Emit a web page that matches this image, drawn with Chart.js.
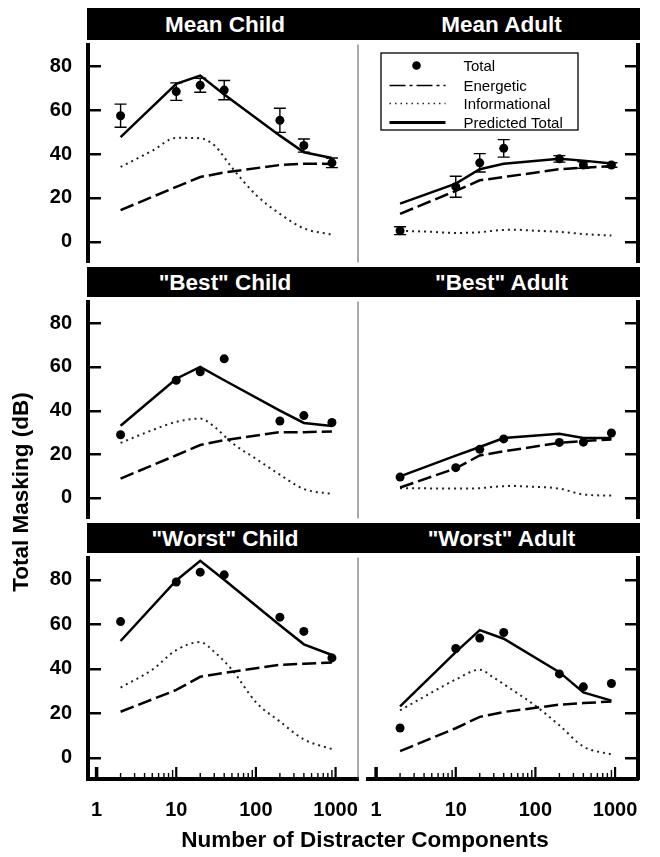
<!DOCTYPE html>
<html>
<head>
<meta charset="utf-8">
<script src="https://cdn.jsdelivr.net/npm/chart.js@4.4.1/dist/chart.umd.min.js"></script>
<style>
html,body{margin:0;padding:0;background:#fff;}
body{width:660px;height:857px;position:relative;overflow:hidden;font-family:"Liberation Sans",Arial,Helvetica,sans-serif;}
canvas{position:absolute;}
.bar{position:absolute;left:87px;width:553px;background:#000;color:#fff;font-weight:bold;font-size:22.5px;display:flex;box-sizing:border-box;padding-top:2px;}
.bar span{display:block;text-align:center;white-space:nowrap;}
.axtitle{position:absolute;font-weight:bold;font-size:22.5px;color:#000;text-align:center;white-space:nowrap;height:28px;line-height:28px;}
</style>
</head>
<body>
<script>
// ---------- data ----------
const xPoints = [2, 10, 20, 40, 200, 400, 900];
const xInformational = [2, 5, 10, 20, 30, 50, 100, 200, 400, 900];
const xTickValues = [1, 10, 100, 1000];
const xMinorTickValues = [2, 3, 4, 5, 6, 7, 8, 9, 20, 30, 40, 50, 60, 70, 80, 90, 200, 300, 400, 500, 600, 700, 800, 900];
const yTickValues = [0, 20, 40, 60, 80];
const seriesNames = ['Total', 'Energetic', 'Informational', 'Predicted Total'];
const panelTitles = ['Mean Child', 'Mean Adult', '"Best" Child', '"Best" Adult', '"Worst" Child', '"Worst" Adult'];
const xAxisTitle = 'Number of Distracter Components';
const yAxisTitle = 'Total Masking (dB)';

const meanChildTotal = [57.5, 68.5, 71.4, 69.2, 55.4, 43.9, 36.0];
const meanChildError = [5.3, 4.0, 3.2, 4.4, 5.5, 3.0, 2.2];
const meanChildEnergetic = [14.4, 25.0, 29.5, 31.6, 35.0, 35.6, 35.5];
const meanChildInformational = [34.1, 41.5, 47.4, 47.2, 44.0, 33.8, 21.4, 12.7, 6.1, 3.2];
const meanChildPredicted = [47.7, 72.0, 75.8, 67.2, 48.4, 40.8, 38.2];

const meanAdultTotal = [5.0, 25.1, 36.0, 42.6, 37.8, 35.0, 35.0];
const meanAdultError = [1.8, 4.8, 4.2, 4.0, 1.5, 1.5, 1.0];
const meanAdultEnergetic = [12.7, 23.2, 28.0, 29.5, 33.1, 33.8, 34.5];
const meanAdultInformational = [5.0, 4.5, 4.0, 4.3, 5.0, 5.5, 5.0, 4.5, 3.5, 2.8];
const meanAdultPredicted = [17.4, 26.5, 33.1, 35.6, 37.8, 37.0, 35.7];

const bestChildTotal = [28.9, 53.9, 57.8, 63.7, 35.2, 37.7, 34.5];
const bestChildEnergetic = [8.8, 19.5, 24.2, 26.4, 30.1, 30.1, 30.4];
const bestChildInformational = [25.2, 31.0, 34.8, 36.3, 32.6, 25.2, 17.9, 10.6, 4.0, 1.8];
const bestChildPredicted = [33.0, 54.6, 60.0, 53.9, 40.0, 34.3, 32.9];

const bestAdultTotal = [9.5, 13.8, 22.2, 27.0, 25.4, 25.5, 29.7];
const bestAdultEnergetic = [4.7, 13.5, 19.4, 21.3, 25.2, 26.0, 26.7];
const bestAdultInformational = [4.4, 4.3, 4.2, 4.4, 5.0, 5.4, 5.0, 4.2, 1.5, 1.0];
const bestAdultPredicted = [9.8, 19.3, 23.3, 27.4, 29.4, 27.4, 27.4];

const worstChildTotal = [61.2, 79.0, 83.4, 82.2, 63.2, 56.8, 44.9];
const worstChildEnergetic = [20.7, 30.5, 36.4, 38.2, 41.8, 42.3, 42.8];
const worstChildInformational = [31.6, 39.6, 48.4, 52.0, 47.6, 39.6, 25.0, 16.3, 8.3, 3.9];
const worstChildPredicted = [52.5, 79.7, 88.5, 80.0, 59.6, 51.0, 46.2];

const worstAdultTotal = [13.4, 49.1, 53.8, 56.3, 37.7, 31.9, 33.4];
const worstAdultEnergetic = [3.0, 13.3, 18.4, 20.6, 23.9, 24.6, 25.3];
const worstAdultInformational = [21.3, 29.4, 35.2, 39.6, 36.0, 30.8, 23.4, 14.6, 5.1, 1.5];
const worstAdultPredicted = [23.1, 47.5, 57.4, 53.5, 38.5, 29.4, 25.7];

// ---------- layout ----------
const FONT = '"Liberation Sans", Arial, Helvetica, sans-serif';
const rowBoxes = [
  {bar: 8, top: 40, bottom: 267},
  {bar: 267, top: 297, bottom: 523},
  {bar: 523, top: 553, bottom: 779}
];
const colBoxes = [
  {canvasLeft: 0, canvasWidth: 363, padRight: 0},
  {canvasLeft: 363, canvasWidth: 297, padRight: 22}
];
const X_AXIS_H = 60;

const panels = [
  {total: meanChildTotal, err: meanChildError, en: meanChildEnergetic, inf: meanChildInformational, pred: meanChildPredicted},
  {total: meanAdultTotal, err: meanAdultError, en: meanAdultEnergetic, inf: meanAdultInformational, pred: meanAdultPredicted, legend: true},
  {total: bestChildTotal, en: bestChildEnergetic, inf: bestChildInformational, pred: bestChildPredicted},
  {total: bestAdultTotal, en: bestAdultEnergetic, inf: bestAdultInformational, pred: bestAdultPredicted},
  {total: worstChildTotal, en: worstChildEnergetic, inf: worstChildInformational, pred: worstChildPredicted},
  {total: worstAdultTotal, en: worstAdultEnergetic, inf: worstAdultInformational, pred: worstAdultPredicted}
];

const toXY = (xs, ys) => ys.map((y, i) => ({x: xs[i], y: y}));

// ---------- plugins ----------
const framePlugin = {
  id: 'panelFrame',
  afterDraw(chart, args, opts) {
    const {ctx, chartArea: a, scales} = chart;
    ctx.save();
    ctx.strokeStyle = '#000';
    ctx.lineCap = 'butt';
    ctx.lineWidth = 2.5;
    yTickValues.forEach(v => {
      const py = Math.round(scales.y.getPixelForValue(v)) + 0.25;
      ctx.beginPath();
      if (opts.side === 'left') { ctx.moveTo(a.left, py); ctx.lineTo(a.left + 13, py); }
      else { ctx.moveTo(a.right - 13, py); ctx.lineTo(a.right, py); }
      ctx.stroke();
    });
    if (opts.divider) {
      ctx.lineWidth = 1;
      ctx.strokeStyle = '#555';
      ctx.beginPath();
      ctx.moveTo(a.right - 0.5, a.top);
      ctx.lineTo(a.right - 0.5, a.bottom);
      ctx.stroke();
    }
    if (opts.bottom) {
      ctx.strokeStyle = '#000';
      xTickValues.forEach((v, i) => {
        const px = scales.x.getPixelForValue(v);
        ctx.lineWidth = i === 0 ? 3.5 : 2.2;
        ctx.beginPath(); ctx.moveTo(px, a.bottom); ctx.lineTo(px, a.bottom - 12); ctx.stroke();
      });
      ctx.lineWidth = 1.4;
      xMinorTickValues.forEach(v => {
        const px = scales.x.getPixelForValue(v);
        const len = String(v)[0] === '9' ? 9 : 6;
        ctx.beginPath(); ctx.moveTo(px, a.bottom); ctx.lineTo(px, a.bottom - len); ctx.stroke();
      });
    }
    ctx.restore();
  }
};

const errorBarPlugin = {
  id: 'errorBars',
  afterDatasetsDraw(chart) {
    const {ctx, scales} = chart;
    chart.data.datasets.forEach(ds => {
      if (!ds.errors) return;
      ctx.save();
      ctx.strokeStyle = '#000';
      ctx.lineWidth = 1.4;
      ds.data.forEach((p, j) => {
        const e = ds.errors[j];
        const px = scales.x.getPixelForValue(p.x);
        const t = scales.y.getPixelForValue(p.y + e);
        const b = scales.y.getPixelForValue(p.y - e);
        ctx.beginPath();
        ctx.moveTo(px, t); ctx.lineTo(px, b);
        ctx.moveTo(px - 6, t); ctx.lineTo(px + 6, t);
        ctx.moveTo(px - 6, b); ctx.lineTo(px + 6, b);
        ctx.stroke();
      });
      ctx.restore();
    });
  }
};

const boxLegendPlugin = {
  id: 'boxLegend',
  afterDraw(chart, args, opts) {
    if (!opts.show) return;
    const {ctx, chartArea: a} = chart;
    const L = a.left + 13, T = a.top + 8, W = 197, H = 77;
    ctx.save();
    ctx.fillStyle = '#fff';
    ctx.fillRect(L, T, W, H);
    ctx.strokeStyle = '#000';
    ctx.lineWidth = 1.3;
    ctx.strokeRect(L + 0.5, T + 0.5, W, H);
    const rowY = [13, 33, 51, 70];
    ctx.font = '15px ' + FONT;
    ctx.textBaseline = 'middle';
    ctx.textAlign = 'left';
    chart.data.datasets.forEach((ds, i) => {
      const y = T + rowY[i];
      if (ds.showLine === false) {
        ctx.fillStyle = '#000';
        ctx.beginPath(); ctx.arc(L + 36, y, 4.3, 0, Math.PI * 2); ctx.fill();
      } else {
        ctx.strokeStyle = ds.borderColor;
        ctx.lineWidth = ds.legendWidth;
        ctx.setLineDash(ds.legendDash || []);
        ctx.beginPath(); ctx.moveTo(L + 9, y); ctx.lineTo(L + 65, y); ctx.stroke();
        ctx.setLineDash([]);
      }
      ctx.fillStyle = '#000';
      ctx.fillText(ds.label, L + 83, y + 1);
    });
    ctx.restore();
  }
};

// ---------- build ----------
panels.forEach((p, idx) => {
  const row = Math.floor(idx / 2), col = idx % 2;
  const rb = rowBoxes[row], cb = colBoxes[col];
  const isBottom = row === 2;
  const areaH = rb.bottom - rb.top;
  const cvH = areaH + (isBottom ? X_AXIS_H : 0);

  const cv = document.createElement('canvas');
  cv.width = cb.canvasWidth; cv.height = cvH;
  cv.style.left = cb.canvasLeft + 'px'; cv.style.top = rb.top + 'px';
  cv.style.width = cb.canvasWidth + 'px'; cv.style.height = cvH + 'px';
  document.body.appendChild(cv);

  const datasets = [
    {label: seriesNames[0], data: toXY(xPoints, p.total), errors: p.err, showLine: false,
     pointRadius: 4.5, pointBackgroundColor: '#000', pointBorderWidth: 0, borderColor: '#000'},
    {label: seriesNames[1], data: toXY(xPoints, p.en), borderColor: '#000', borderWidth: 2.5,
     borderDash: [14, 5], pointRadius: 0, tension: 0, legendWidth: 1.3, legendDash: [16, 4, 3, 4]},
    {label: seriesNames[2], data: toXY(xInformational, p.inf), borderColor: '#222', borderWidth: 2,
     borderDash: [2, 4], pointRadius: 0, cubicInterpolationMode: 'monotone', legendWidth: 1.5, legendDash: [1.5, 4]},
    {label: seriesNames[3], data: toXY(xPoints, p.pred), borderColor: '#000', borderWidth: 2.5,
     pointRadius: 0, tension: 0, legendWidth: 3}
  ];

  new Chart(cv, {
    type: 'line',
    data: {datasets},
    options: {
      responsive: false, animation: false, devicePixelRatio: 1,
      events: [],
      layout: {padding: {left: 0, right: cb.padRight, top: 0, bottom: 0}},
      plugins: {
        legend: {display: false}, tooltip: {enabled: false}, title: {display: false},
        panelFrame: {side: col === 0 ? 'left' : 'right', divider: col === 0, bottom: isBottom},
        boxLegend: {show: !!p.legend}
      },
      scales: {
        x: {
          type: 'logarithmic', min: 0.78, max: 1940, position: 'bottom', display: isBottom,
          grid: {display: false},
          border: {display: true, width: 4, color: '#000'},
          afterBuildTicks: s => { s.ticks = xTickValues.map(v => ({value: v})); },
          afterFit: s => {
            s.height = isBottom ? X_AXIS_H : 0;
            s.paddingLeft = 0; s.paddingRight = 0; s.paddingTop = 0; s.paddingBottom = 0;
          },
          ticks: {color: '#000', font: {family: FONT, size: 20, weight: 'bold'}, padding: 11,
                  maxRotation: 0, autoSkip: false, callback: v => String(v)}
        },
        y: {
          type: 'linear', min: -9.5, max: 90, position: col === 0 ? 'left' : 'right', display: true,
          grid: {display: false},
          border: {display: true, width: 4, color: '#000'},
          afterBuildTicks: s => { s.ticks = yTickValues.map(v => ({value: v})); },
          afterFit: s => {
            s.width = col === 0 ? 88 : 0;
            s.paddingLeft = 0; s.paddingRight = 0; s.paddingTop = 0; s.paddingBottom = 0;
          },
          ticks: {display: col === 0, color: '#000', font: {family: FONT, size: 20, weight: 'bold'},
                  padding: 8, callback: v => String(v)}
        }
      }
    },
    plugins: [framePlugin, errorBarPlugin, boxLegendPlugin]
  });
});

// title bars (black strips with white bold titles)
rowBoxes.forEach((rb, r) => {
  const bar = document.createElement('div');
  bar.className = 'bar';
  const h = rb.top - rb.bar;
  bar.style.top = rb.bar + 'px';
  bar.style.height = h + 'px';
  [0, 1].forEach(c => {
    const s = document.createElement('span');
    s.style.width = (c === 0 ? 276 : 277) + 'px';
    s.style.lineHeight = (h - 2) + 'px';
    s.textContent = panelTitles[r * 2 + c];
    bar.appendChild(s);
  });
  document.body.appendChild(bar);
});

// axis titles
const xt = document.createElement('div');
xt.className = 'axtitle';
xt.style.left = '65px'; xt.style.width = '600px'; xt.style.top = '826px';
xt.textContent = xAxisTitle;
document.body.appendChild(xt);

const yt = document.createElement('div');
yt.className = 'axtitle';
yt.style.width = '300px'; yt.style.left = (21 - 150) + 'px'; yt.style.top = (492 - 14) + 'px';
yt.style.transform = 'rotate(-90deg)';
yt.textContent = yAxisTitle;
document.body.appendChild(yt);
</script>
</body>
</html>
